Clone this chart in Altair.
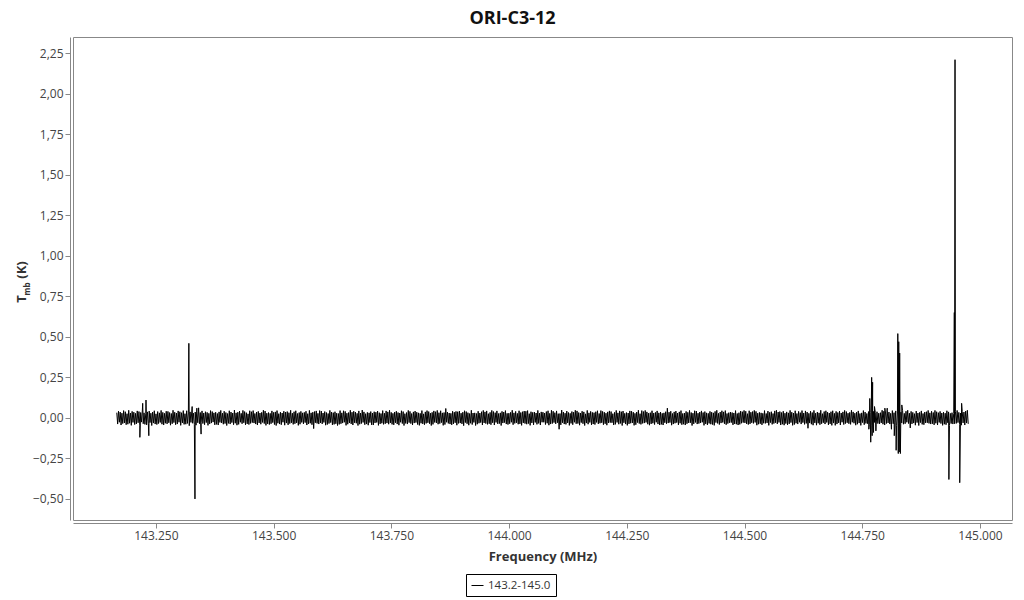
import altair as alt
import pandas as pd

# ---- data ----
series_name = "143.2-145.0"
f_start, f_end = 143.167, 144.975

noise_mK = [
    32,-38,41,-27,36,-44,29,-35,45,-31,38,-42,26,-39,47,-33,30,-46,40,-28,
    35,-41,28,-37,43,-30,39,-45,33,-26,48,-36,31,-40,27,-43,37,-34,42,-29,
    29,-47,36,-32,44,-38,25,-41,39,-35,31,-28,46,-39,34,-44,28,-33,41,-37,
    40,-30,33,-45,27,-36,47,-29,35,-42,30,-38,43,-27,38,-46,32,-31,45,-40,
    26,-39,44,-34,31,-48,37,-28,42,-33,29,-41,36,-45,40,-30,62,-36,33,-27,
    43,-35,30,-42,38,-29,34,-46,28,-37,45,-32,39,-26,31,-43,35,-40,27,-44,
    37,-28,46,-31,29,-39,41,-35,33,-47,27,-34,44,-38,36,-29,30,-42,48,-33,
    31,-45,35,-40,42,-27,28,-36,46,-30,39,-43,32,-37,25,-41,44,-34,38,-29,
    45,-32,27,-38,36,-44,40,-31,30,-39,34,-28,47,-35,42,-46,29,-37,33,-41,
    28,-36,43,-29,34,-41,37,-47,45,-33,26,-38,35,-42,30,-27,41,-45,36,-32,
    39,-43,32,-35,47,-30,29,-40,38,-36,44,-31,27,-46,33,-39,40,-28,31,-37,
    34,-29,41,-44,26,-37,46,-33,31,-42,35,-66,39,-30,43,-34,28,-38,45,-31,
    42,-37,30,-28,39,-45,33,-41,27,-35,46,-29,36,-43,32,-40,38,-36,29,-47,
    27,-40,45,-36,31,-32,44,-27,40,-46,29,-39,33,-31,47,-37,35,-44,41,-30,
    36,-33,28,-47,43,-39,30,-35,48,-28,37,-42,26,-38,34,-45,31,-29,39,-43,
    30,-44,38,-31,35,-28,42,-46,32,-37,27,-33,45,-40,29,-36,43,-32,37,-39,
    47,-31,34,-40,28,-43,36,-30,41,-38,33,-45,30,-27,44,-35,39,-47,26,-34,
    33,-38,46,-29,40,-35,27,-44,37,-32,42,-29,35,-41,31,-46,28,-33,45,-37,
    25,-42,37,-34,45,-30,39,-36,29,-47,34,-40,43,-28,38,-31,46,-39,32,-35,
    44,-29,31,-46,33,-41,58,-27,36,-34,30,-38,28,-43,41,-37,35,-30,40,-45,
    38,-34,42,-32,29,-37,35,-48,44,-29,39,-36,32,-45,27,-33,47,-41,30,-28,
    31,-47,27,-39,41,-33,30,-29,38,-44,46,-31,37,-35,43,-40,26,-36,34,-42,
    46,-30,39,-44,32,-28,43,-37,27,-35,31,-47,40,-32,36,-29,45,-38,28,-41,
    29,-36,34,-27,47,-42,31,-34,40,-30,28,-39,44,-37,33,-46,38,-31,42,-35,
    41,-39,45,-35,26,-46,38,-31,34,-43,36,-28,30,-40,46,-34,29,-44,37,-27,
    35,-27,30,-41,39,-33,44,-45,28,-38,47,-35,41,-29,32,-37,43,-30,26,-70,
    27,-43,48,-30,36,-38,29,-40,42,-31,33,-46,28,-34,39,-42,35,-27,47,-36,
    43,-35,33,-45,30,-29,41,-36,37,-47,25,-32,46,-39,31,-28,40,-43,34,-38,
    32,-41,38,-28,44,-37,27,-33,45,-30,40,-42,35,-36,29,-45,37,-31,43,-29,
    39,-30,26,-44,34,-40,46,-28,31,-39,43,-34,38,-47,42,-30,28,-38,33,-46,
    30,-37,43,-33,41,-31,35,-46,28,-42,36,-29,47,-35,26,-40,45,-34,39,-32,
    46,-28,37,-39,29,-45,32,-37,44,-33,30,-41,34,-27,43,-38,31,-44,36,-40,
    28,-44,31,-30,38,-36,60,-32,35,-29,41,-45,27,-38,37,-33,42,-29,30,-43,
    37,-33,45,-42,27,-39,30,-44,40,-36,34,-31,46,-30,33,-47,29,-37,44,-28,
    42,-38,29,-35,36,-31,43,-27,33,-46,39,-37,31,-43,28,-34,40,-39,35,-41,
    31,-46,40,-29,47,-34,28,-41,36,-32,44,-28,37,-36,45,-42,27,-35,32,-30,
    36,-29,33,-43,30,-37,45,-39,27,-44,32,-40,42,-33,38,-29,46,-31,41,-37,
    26,-41,44,-37,35,-30,39,-34,46,-28,40,-45,29,-39,34,-36,31,-43,28,-33,
    45,-34,27,-31,42,-46,34,-29,38,-40,27,-35,43,-30,47,-37,36,-28,39,-44,
    33,-39,41,-45,29,-35,37,-43,31,-37,46,-29,35,-46,30,-41,44,-33,27,-38,
    40,-27,32,-38,45,-29,30,-40,43,-34,36,-64,28,-32,41,-39,33,-45,46,-31,
    29,-45,36,-33,31,-42,47,-36,26,-30,39,-38,44,-28,35,-43,30,-37,38,-46,
    44,-32,28,-46,40,-38,33,-31,42,-44,30,-27,37,-41,46,-35,39,-30,29,-36,
    34,-40,47,-27,37,-33,29,-45,35,-39,43,-32,27,-46,31,-29,45,-42,36,-34,
    27,-36,39,-42,33,-47,44,-30,40,-28,34,-43,38,-35,29,-37,32,-31,47,-39,
    41,-44,30,-35,46,-31,36,-38,28,-41,45,-36,32,-29,43,-46,37,-33,30,-40,
    35,-31,45,-39,28,-36,41,-27,47,-35,29,-62,40,-37,34,-32,26,-45,42,-29,
    30,-47,34,-29,43,-40,27,-42,36,-31,38,-30,46,-34,31,-38,41,-36,33,-43,
    46,-33,38,-44,32,-28,40,-35,30,-46,35,-39,29,-42,44,-30,37,-47,28,-35,
    32,-38,27,-36,41,-34,46,-29,34,-40,30,-45,39,-31,36,-44,42,-32,47,-37,
]

spike_freq = [143.216, 143.222, 143.229, 143.235, 143.320, 143.327, 143.333, 143.337, 143.346,
              144.764, 144.766, 144.768, 144.770, 144.771, 144.772, 144.774, 144.776, 144.779,
              144.798, 144.803, 144.812, 144.818, 144.822, 144.8255, 144.8265, 144.8275,
              144.8285, 144.8295, 144.831, 144.834,
              144.934, 144.9455, 144.947, 144.957, 144.961]
spike_val = [-0.12, 0.09, 0.11, -0.11, 0.46, 0.07, -0.50, 0.06, -0.10,
             -0.07, 0.12, -0.15, 0.25, -0.11, 0.22, -0.09, 0.07, -0.08,
             0.06, 0.06, -0.07, -0.11, -0.20, 0.52, -0.22, 0.47,
             -0.21, 0.40, -0.22, 0.08,
             -0.38, 0.65, 2.21, -0.40, 0.09]

x_ticks = [143.25, 143.5, 143.75, 144.0, 144.25, 144.5, 144.75, 145.0]
y_ticks = [-0.5, -0.25, 0.0, 0.25, 0.5, 0.75, 1.0, 1.25, 1.5, 1.75, 2.0, 2.25]
title_text = "ORI-C3-12"
x_title = "Frequency (MHz)"
y_title_parts = ["T", "mb", "(K)"]

# ---- table ----
n = len(noise_mK)
step = (f_end - f_start) / (n - 1)
rows = [{"freq": f_start + i * step, "tmb": v / 1000.0, "series": series_name}
        for i, v in enumerate(noise_mK)]
rows += [{"freq": f, "tmb": v, "series": series_name} for f, v in zip(spike_freq, spike_val)]
df = pd.DataFrame(rows).sort_values("freq").reset_index(drop=True)

FONT = "Open Sans"

line = alt.Chart(df).mark_line(strokeWidth=1, clip=True).encode(
    x=alt.X("freq:Q",
            scale=alt.Scale(domain=[143.074, 145.068], nice=False, zero=False),
            axis=alt.Axis(values=x_ticks, format=".3f", title=x_title, grid=False, offset=3,
                          titlePadding=9)),
    y=alt.Y("tmb:Q",
            scale=alt.Scale(domain=[-0.63, 2.35], nice=False, zero=False),
            axis=alt.Axis(values=y_ticks, labelExpr="replace(format(datum.value, '.2f'), '.', ',')",
                          title=None, grid=False, offset=3)),
    color=alt.Color("series:N", scale=alt.Scale(range=["black"]),
                    legend=alt.Legend(title=None, orient="none", legendX=393, legendY=537,
                                      symbolType="stroke", strokeColor="black", padding=5,
                                      symbolSize=144, symbolStrokeWidth=1,
                                      labelFont=FONT, labelFontSize=11.5, labelColor="#333")),
)

t_main = alt.Chart(pd.DataFrame({"t": [y_title_parts[0]]})).mark_text(
    angle=270, fontSize=13, fontWeight="bold", font=FONT, color="#333",
    align="center", baseline="middle").encode(text="t:N", x=alt.value(-51), y=alt.value(262))
t_sub = alt.Chart(pd.DataFrame({"t": [y_title_parts[1]]})).mark_text(
    angle=270, fontSize=8, fontWeight="bold", font=FONT, color="#333",
    align="center", baseline="middle").encode(text="t:N", x=alt.value(-45), y=alt.value(252))
t_unit = alt.Chart(pd.DataFrame({"t": [y_title_parts[2]]})).mark_text(
    angle=270, fontSize=13, fontWeight="bold", font=FONT, color="#333",
    align="center", baseline="middle").encode(text="t:N", x=alt.value(-51), y=alt.value(233))

chart = alt.layer(line, t_main, t_sub, t_unit).properties(
    width=939, height=483,
    padding={"left": 65, "top": 29, "right": 4, "bottom": 80},
    autosize="none",
    title=alt.TitleParams(title_text, font=FONT, fontSize=18, fontWeight="bold", color="#111",
                          anchor="middle", dx=-30, offset=9),
).configure_view(stroke="#888888", strokeWidth=1).configure_axis(
    domainColor="#888888", tickColor="#888888", tickSize=5,
    labelFont=FONT, labelFontSize=12, labelColor="#444",
    titleFont=FONT, titleFontSize=13, titleFontWeight="bold", titleColor="#333",
)

chart.save("out.html", embed_options={"renderer": "svg", "actions": False})
